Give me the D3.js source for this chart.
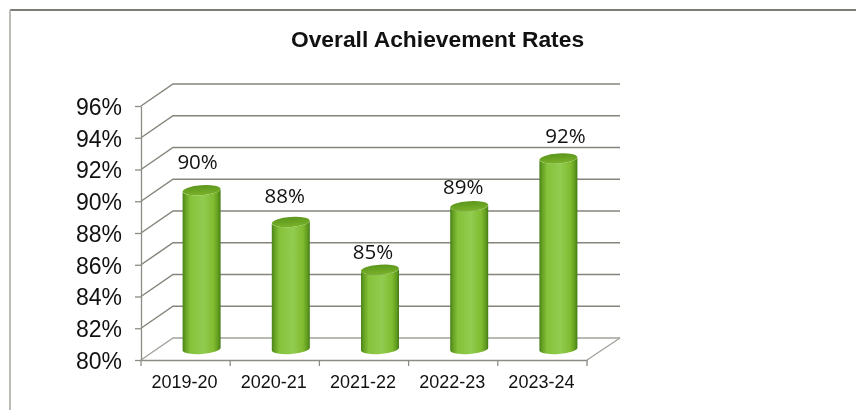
<html>
<script src='https://cdnjs.cloudflare.com/ajax/libs/d3/7.8.5/d3.min.js'></script>
<style>
body {margin:0; background:#fff;}
svg {display:block; filter:blur(0.35px);}
text {font-family:'Liberation Sans',Arial,sans-serif; fill:#111;}
.axis path, .axis line {stroke:#8c8c84; stroke-width:1.3;}
.grid {stroke:#85857c; stroke-width:1.5; fill:none;}
.wall {stroke:#a3a39c; stroke-width:1.3; fill:none;}
</style>
<body>
<svg width=856 height=410></svg>
<script>
const categories = ['2019-20','2020-21','2021-22','2022-23','2023-24'];
const rates = [90,88,85,89,92];
const yTicks = [80,82,84,86,88,90,92,94,96];
const titleText = 'Overall Achievement Rates';

const left = 141, right = 587, bottom = 360, top_ = 106;
const depthX = 32, depthY = -22;
const barW = 38, barShiftX = 16, barShiftY = -11;
// the data labels sit by hand in the original
const labelNudge = [[-4,-21],[-6,-19],[-7,-11],[-6,-12],[7,-16]];

const svg = d3.select('svg');

const x = d3.scaleBand().domain(categories).range([left,right]);
const y = d3.scaleLinear().domain([80,96]).range([bottom,top_]);

// bar gradient, dark at both edges
const defs = svg.append('defs');
const grad = defs.append('linearGradient').attr('id','side');
[[0,'#47821a'],[0.07,'#649f22'],[0.2,'#86c23a'],[0.55,'#92cc50'],[0.82,'#80bb30'],[0.94,'#5f9a1e'],[1,'#427a16']]
  .forEach(function(s) {grad.append('stop').attr('offset',s[0]).attr('stop-color',s[1]);});
const capGrad = defs.append('linearGradient').attr('id','cap').attr('x2',0).attr('y2',1);
[[0,'#5c961c'],[1,'#79b22a']]
  .forEach(function(s) {capGrad.append('stop').attr('offset',s[0]).attr('stop-color',s[1]);});

// frame, the left side is fainter in the scan
svg.append('line').attr('x1',10).attr('y1',10).attr('x2',856).attr('y2',10).attr('stroke','#7d7d77').attr('stroke-width',1.8);
svg.append('line').attr('x1',10).attr('y1',10).attr('x2',10).attr('y2',410).attr('stroke','#b5b5b0').attr('stroke-width',1.8);

// title
svg.append('text').attr('x',437.5).attr('y',47).attr('text-anchor','middle')
  .attr('font-size',22.8).attr('font-weight','bold').text(titleText);

// back wall grid lines and the slanted side wall
svg.append('g').selectAll('path').data(yTicks).enter().append('path')
  .attr('class',function(d) {return d==80 ? 'wall' : 'grid';})
  .attr('d',function(d) {
    const p = d3.path();
    p.moveTo(left,y(d));
    p.lineTo(left+depthX,y(d)+depthY);
    p.lineTo(right+depthX+1,y(d)+depthY);
    return p.toString();
  });
// floor right edge
svg.append('line').attr('class','wall')
  .attr('x1',right).attr('y1',y(80)).attr('x2',right+depthX+1).attr('y2',y(80)+depthY);

// axes
svg.append('g').attr('class','axis').attr('transform','translate('+left+',0)')
  .call(d3.axisLeft(y).tickValues(yTicks).tickSize(6).tickSizeOuter(0).tickFormat(function(d) {return d+'%';}))
  .call(function(g) {g.selectAll('text').attr('font-size',23).attr('x',-19).attr('y',1).style('font-family',"'Liberation Sans',Arial,sans-serif");});

const xAxis = svg.append('g').attr('class','axis').attr('transform','translate(0,'+bottom+')')
  .call(d3.axisBottom(x).tickSize(0).tickSizeOuter(0));
xAxis.selectAll('text').attr('font-size',18).attr('y',15).attr('dx',-1).style('font-family',"'Liberation Sans',Arial,sans-serif");
xAxis.append('g').selectAll('line').data(categories.concat(['end'])).enter().append('line')
  .attr('x1',function(d) {return d=='end' ? right : x(d);})
  .attr('x2',function(d) {return d=='end' ? right : x(d);})
  .attr('y1',0).attr('y2',6);

// cylinders
const rx = barW/2, ry = 5, tilt = 1.4;
const bars = svg.append('g').selectAll('g').data(categories).enter().append('g');
const cx = function(c) {return x(c)+x.bandwidth()/2+barShiftX;};
const yBar = function(v) {return y(v)+barShiftY;};

bars.append('path').attr('fill','url(#side)')
  .attr('d',function(c,i) {
    const a = cx(c)-rx, b = cx(c)+rx;
    const t = yBar(rates[i]), f = yBar(80);
    return 'M'+a+','+(t+tilt)+'L'+a+','+(f+tilt)
      +'A'+rx+','+ry+' -4 0 0 '+b+','+(f-tilt)
      +'L'+b+','+(t-tilt)
      +'A'+rx+','+ry+' -4 0 1 '+a+','+(t+tilt)+'Z';
  });
bars.append('ellipse').attr('fill','url(#cap)')
  .attr('rx',rx).attr('ry',ry)
  .attr('transform',function(c,i) {return 'translate('+cx(c)+','+yBar(rates[i])+') rotate(-4)';});

// data labels
svg.append('g').selectAll('text').data(rates).enter().append('text')
  .attr('x',function(d,i) {return cx(categories[i])+labelNudge[i][0];})
  .attr('y',function(d,i) {return yBar(d)+labelNudge[i][1];})
  .attr('text-anchor','middle')
  .style('font-family',"'Open Sans',sans-serif")
  .attr('font-size',20.5)
  .text(function(d) {return d+'%';});
</script>
</body>
</html>
